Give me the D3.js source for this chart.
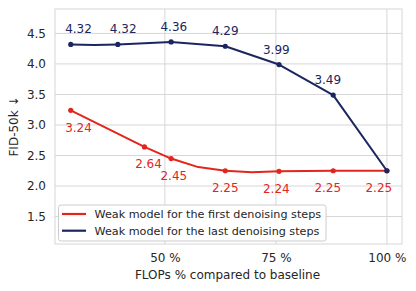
<!DOCTYPE html>
<html>
<head>
<meta charset="utf-8">
<script src="https://cdn.jsdelivr.net/npm/d3@7"></script>
<style>
  body { margin: 0; background: #fff; }
  text { font-family: "DejaVu Sans", sans-serif; }
</style>
</head>
<body>
<svg class="chart"></svg>
<script>
// FLOPs % compared to baseline (unmarked points sit between the dots)
var firstX = [28.8, 45.4, 51.4, 57.5, 63.6, 69.6, 75.7, 87.9, 100];
var firstY = [3.24, 2.64, 2.45, 2.31, 2.25, 2.225, 2.24, 2.25, 2.25];
var firstMarked = [true, true, true, false, true, false, true, true, true];
var firstLabeled = [true, true, true, false, true, false, true, true, true];
var lastX = [28.8, 34.1, 39.4, 51.4, 63.6, 75.7, 87.9, 100];
var lastY = [4.32, 4.31, 4.32, 4.36, 4.29, 3.99, 3.49, 2.25];
var lastMarked = [true, false, true, true, true, true, true, true];
var lastLabeled = [true, false, true, true, true, true, true, false];
var xTicks = [50, 75, 100];
var yTicks = [1.5, 2.0, 2.5, 3.0, 3.5, 4.0, 4.5];
var seriesNames = ['Weak model for the first denoising steps', 'Weak model for the last denoising steps'];

var red = '#e2261c';
var navy = '#1b2660';

var svgwidth = 416, svgheight = 291;
var margins = {top: 9, bottom: 47, left: 55, right: 14};
var width = svgwidth - margins.left - margins.right;
var height = svgheight - margins.top - margins.bottom;

var svg = d3.select('.chart').attr('width', svgwidth).attr('height', svgheight);
var g = svg.append('g').attr('transform', 'translate(' + margins.left + ',' + margins.top + ')');

var xScale = d3.scaleLinear().domain([25.25, 103.4]).range([0, width]);
var yScale = d3.scaleLinear().domain([1.05, 4.9]).range([height, 0]);

// grid
g.selectAll('.ygrid').data(yTicks).enter().append('line')
  .attr('x1', 0).attr('x2', width)
  .attr('y1', function(d){ return yScale(d); }).attr('y2', function(d){ return yScale(d); })
  .attr('stroke', '#d6d6d6').attr('stroke-width', 1);
g.selectAll('.xgrid').data(xTicks).enter().append('line')
  .attr('y1', 0).attr('y2', height)
  .attr('x1', function(d){ return xScale(d); }).attr('x2', function(d){ return xScale(d); })
  .attr('stroke', '#d6d6d6').attr('stroke-width', 1);
g.append('rect').attr('width', width).attr('height', height)
  .attr('fill', 'none').attr('stroke', '#d6d6d6').attr('stroke-width', 1);

// axes
var yAxis = d3.axisLeft(yScale).tickValues(yTicks).tickFormat(d3.format('.1f')).tickSize(0).tickPadding(9);
var ya = g.append('g').call(yAxis);
var xAxis = d3.axisBottom(xScale).tickValues(xTicks).tickFormat(function(d){ return d + ' %'; }).tickSize(0).tickPadding(9);
var xa = g.append('g').attr('transform', 'translate(0,' + height + ')').call(xAxis);
[ya, xa].forEach(function(a){
  a.select('.domain').remove();
  a.selectAll('text').attr('font-size', 12).attr('fill', '#262626').attr('font-family', 'DejaVu Sans');
});

svg.append('text').attr('x', margins.left + width / 2 - 1).attr('y', 279)
  .attr('text-anchor', 'middle').attr('font-size', 12).attr('fill', '#262626')
  .text('FLOPs % compared to baseline');
svg.append('text').attr('transform', 'translate(18,' + (margins.top + height / 2) + ') rotate(-90)')
  .attr('text-anchor', 'middle').attr('font-size', 12).attr('fill', '#262626')
  .text('FID-50k \u2193');

var linemake = d3.line()
  .x(function(d){ return xScale(d.x); })
  .y(function(d){ return yScale(d.y); });

var series = [
  {xs: firstX, ys: firstY, marked: firstMarked, labeled: firstLabeled, color: red, dy: 17.5 + 4},
  {xs: lastX, ys: lastY, marked: lastMarked, labeled: lastLabeled, color: navy, dy: -15 + 4}
];

series.forEach(function(s){
  var pts = s.xs.map(function(x, i){ return {x: x, y: s.ys[i], m: s.marked[i], l: s.labeled[i]}; });
  g.append('path').datum(pts).attr('d', linemake)
    .attr('fill', 'none').attr('stroke', s.color).attr('stroke-width', 2)
    .attr('stroke-linejoin', 'round');
  g.selectAll(null).data(pts.filter(function(d){ return d.m; })).enter().append('circle')
    .attr('cx', function(d){ return xScale(d.x); })
    .attr('cy', function(d){ return yScale(d.y); })
    .attr('r', 2.6).attr('fill', s.color);
  var mid = xScale(63.6);
  g.selectAll(null).data(pts.filter(function(d){ return d.l; })).enter().append('text')
    .attr('x', function(d){ var px = xScale(d.x); return px + (mid - px) * 0.05; })
    .attr('y', function(d){ return yScale(d.y) + s.dy; })
    .attr('text-anchor', 'middle').attr('font-size', 12).attr('fill', s.color)
    .text(function(d){ return d3.format('.2f')(d.y); });
});

// legend
var lg = svg.append('g').attr('transform', 'translate(58.5,205)');
lg.append('rect').attr('width', 267.5).attr('height', 36).attr('rx', 2.5)
  .attr('fill', '#fff').attr('fill-opacity', 0.9).attr('stroke', '#cccccc').attr('stroke-width', 1);
[red, navy].forEach(function(c, i){
  var yy = 9 + i * 16.7;
  lg.append('line').attr('x1', 3.5).attr('x2', 27.5).attr('y1', yy).attr('y2', yy)
    .attr('stroke', c).attr('stroke-width', 2.2);
  lg.append('text').attr('x', 36).attr('y', yy + 4).attr('font-size', 11.2).attr('fill', '#262626')
    .text(seriesNames[i]);
});
</script>
</body>
</html>
